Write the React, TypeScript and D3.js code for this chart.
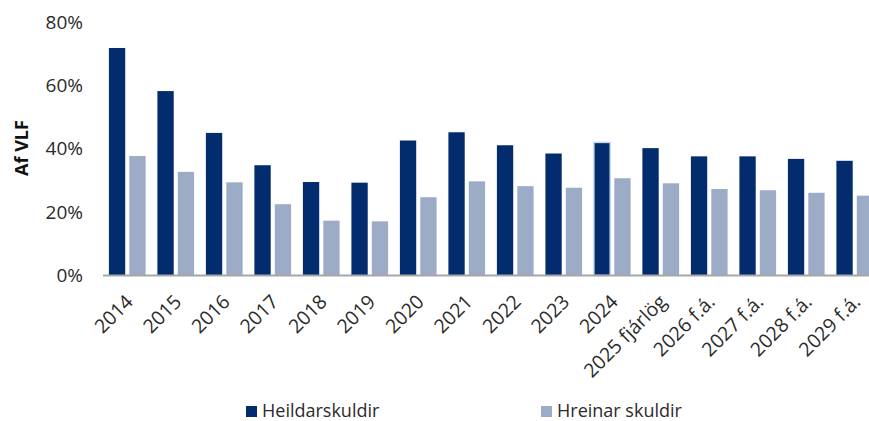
import React from 'react';
import * as d3 from 'd3';

const categories = [
  '2014', '2015', '2016', '2017', '2018', '2019', '2020', '2021',
  '2022', '2023', '2024', '2025 fjárlög', '2026 f.á.', '2027 f.á.', '2028 f.á.', '2029 f.á.',
];
const heildarskuldir = [71.8, 58.2, 45.0, 34.8, 29.5, 29.3, 42.6, 45.2, 41.1, 38.5, 42.0, 40.2, 37.6, 37.6, 36.8, 36.2];
const hreinarSkuldir = [37.7, 32.7, 29.4, 22.5, 17.3, 17.1, 24.7, 29.7, 28.2, 27.7, 30.7, 29.1, 27.3, 26.9, 26.1, 25.2];
const seriesNames = ['Heildarskuldir', 'Hreinar skuldir'];
const yTicks = [0, 20, 40, 60, 80];

const W = 869;
const H = 421;
const font = '"Open Sans", "Noto Sans", sans-serif';
const colors = {
  dark: '#022c6e',
  light: '#9cabc6',
  axis: '#a6a6a6',
  text: '#2b2b2b',
  highlight: '#c3d8f2',
};

const App = () => {
  const x = d3.scaleBand<string>().domain(categories).range([103, 879]);
  const inner = d3.scaleBand<string>().domain(seriesNames).range([5.9, x.bandwidth() - 5.9]).paddingInner(0.2);
  const y = d3.scaleLinear().domain([0, 80]).range([275.5, 22]);

  const rows = categories.map((c, i) => ({ cat: c, values: [heildarskuldir[i], hreinarSkuldir[i]] }));
  const fills = [colors.dark, colors.light];

  return (
    <svg width={W} height={H} style={{ position: 'absolute', left: 0, top: 0, background: '#fff' }}>
      {/* bars */}
      {rows.map((r) => (
        <g key={r.cat} transform={`translate(${x(r.cat)},0)`}>
          {r.values.map((v, j) => (
            <rect
              key={j}
              x={inner(seriesNames[j])}
              y={y(v)}
              width={inner.bandwidth()}
              height={y(0) - y(v)}
              fill={fills[j]}
              stroke={r.cat === '2024' && j === 0 ? colors.highlight : 'none'}
              strokeWidth={1.5}
            />
          ))}
        </g>
      ))}

      {/* baseline */}
      <line x1={103} x2={W} y1={y(0)} y2={y(0)} stroke={colors.axis} strokeWidth={2} />

      {/* y ticks */}
      {yTicks.map((t) => (
        <text
          key={t}
          x={83}
          y={y(t)}
          dy="0.35em"
          textAnchor="end"
          fontFamily={font}
          fontSize={19}
          fill={colors.text}
        >
          {`${t}%`}
        </text>
      ))}

      {/* y label */}
      <text
        transform="translate(28,148) rotate(-90)"
        textAnchor="middle"
        fontFamily={font}
        fontSize={18}
        fontWeight={700}
        fill="#111"
      >
        Af VLF
      </text>

      {/* x labels */}
      {categories.map((c) => (
        <text
          key={c}
          transform={`translate(${(x(c) ?? 0) + x.bandwidth() / 2 + 7},${303}) rotate(-45)`}
          textAnchor="end"
          fontFamily={font}
          fontSize={19.5}
          fill={colors.text}
        >
          {c}
        </text>
      ))}

      {/* legend */}
      {seriesNames.map((s, i) => {
        const lx = [246, 541][i];
        return (
          <g key={s} transform={`translate(${lx},404)`}>
            <rect y={2} width={11} height={11} fill={fills[i]} />
            <text x={16} y={12.5} fontFamily={font} fontSize={18} fill={colors.text}>
              {s}
            </text>
          </g>
        );
      })}
    </svg>
  );
};

export default App;
